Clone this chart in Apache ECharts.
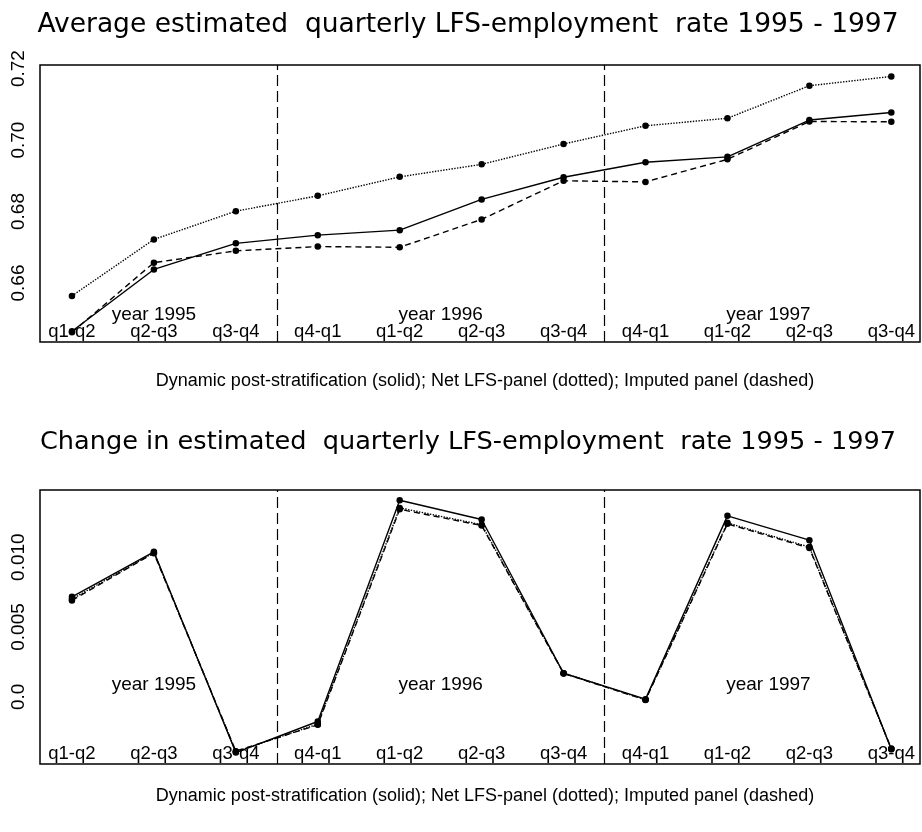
<!DOCTYPE html>
<html>
<head>
<meta charset="utf-8">
<script src="https://cdn.jsdelivr.net/npm/echarts@6/dist/echarts.min.js"></script>
<style>
  html, body { margin: 0; background: #fff; }
  #main { width: 922px; height: 832px; }
</style>
</head>
<body>
<div id="main"></div>
<script>
var quarters = ['q1-q2', 'q2-q3', 'q3-q4', 'q4-q1', 'q1-q2', 'q2-q3', 'q3-q4', 'q4-q1', 'q1-q2', 'q2-q3', 'q3-q4'];
var years = ['year 1995', 'year 1996', 'year 1997'];
var yearPos = [1, 4.5, 8.5];
var yearBreaks = [2.5, 6.5];

// average employment rate
var rateSolid = [0.6465, 0.6638, 0.6711, 0.6734, 0.6748, 0.6834, 0.6896, 0.6938, 0.6953, 0.7056, 0.7077];
var rateDotted = [0.6564, 0.6722, 0.6801, 0.6844, 0.6897, 0.6932, 0.6989, 0.7040, 0.7061, 0.7152, 0.7178];
var rateDashed = [0.6462, 0.6657, 0.6690, 0.6702, 0.6700, 0.6778, 0.6886, 0.6883, 0.6946, 0.7052, 0.7051];
var rateTicks = [0.66, 0.68, 0.70, 0.72];

// change in rate
var chgSolid = [0.00716, 0.01038, -0.00398, -0.00176, 0.01407, 0.01269, 0.00169, -0.00016, 0.01295, 0.01121, -0.00374];
var chgDotted = [0.00700, 0.01032, -0.00392, -0.00195, 0.01352, 0.01232, 0.00170, -0.00020, 0.01245, 0.01072, -0.00372];
var chgDashed = [0.00690, 0.01028, -0.00388, -0.00200, 0.01342, 0.01226, 0.00168, -0.00022, 0.01238, 0.01065, -0.00370];
var chgTicks = [0, 0.005, 0.010];

var caption = 'Dynamic post-stratification (solid); Net LFS-panel (dotted); Imputed panel (dashed)';
var font = 'Liberation Sans';

function pts(arr) {
  return arr.map(function (v, i) { return [i, v]; });
}

function lineSeries(g, arr, type) {
  return {
    type: 'line',
    xAxisIndex: g,
    yAxisIndex: g,
    data: pts(arr),
    symbol: 'circle',
    symbolSize: 6.5,
    itemStyle: { color: '#000' },
    lineStyle: { color: '#000', width: 1.4, type: type },
    animation: false,
    z: 3
  };
}

function yearSeries(g, yv) {
  return {
    type: 'scatter',
    xAxisIndex: g,
    yAxisIndex: g,
    symbolSize: 0,
    silent: true,
    itemStyle: { opacity: 1, color: '#000' },
    data: yearPos.map(function (x, i) { return { value: [x, yv], name: years[i] }; }),
    label: {
      show: true,
      position: 'inside',
      formatter: '{b}',
      color: '#000',
      fontFamily: font,
      fontSize: 19
    },
    markLine: {
      silent: true,
      symbol: 'none',
      label: { show: false },
      lineStyle: { color: '#000', type: [11, 5], width: 1.2, opacity: 1 },
      data: yearBreaks.map(function (x) { return { xAxis: x }; })
    },
    animation: false
  };
}

function xAxis(g) {
  return {
    type: 'value',
    gridIndex: g,
    min: -0.39,
    max: 10.35,
    splitLine: { show: false },
    axisLine: { show: false, onZero: false },
    axisTick: { show: false },
    axisLabel: {
      inside: true,
      margin: 1,
      customValues: quarters.map(function (q, i) { return i; }),
      formatter: function (v) { return quarters[Math.round(v)]; },
      color: '#000',
      fontFamily: font,
      fontSize: 18.5
    }
  };
}

function yAxis(g, min, max, ticks, fmt) {
  return {
    type: 'value',
    gridIndex: g,
    min: min,
    max: max,
    splitLine: { show: false },
    axisLine: { show: false, onZero: false },
    axisTick: { show: false },
    axisLabel: {
      rotate: 90,
      margin: 12,
      customValues: ticks,
      formatter: fmt,
      color: '#000',
      fontFamily: font,
      fontSize: 19
    }
  };
}

var chart = echarts.init(document.getElementById('main'));
chart.setOption({
  backgroundColor: '#fff',
  textStyle: { fontFamily: font },
  title: [
    { text: 'Average estimated  quarterly LFS-employment  rate 1995 - 1997', left: 463, textAlign: 'center', top: 7,
      textStyle: { fontSize: 26.5, fontWeight: 'normal', color: '#000', fontFamily: 'DejaVu Sans' } },
    { text: caption, left: 480, textAlign: 'center', top: 367,
      textStyle: { fontSize: 18, fontWeight: 'normal', color: '#000', fontFamily: font } },
    { text: 'Change in estimated  quarterly LFS-employment  rate 1995 - 1997', left: 463, textAlign: 'center', top: 424,
      textStyle: { fontSize: 25.6, fontWeight: 'normal', color: '#000', fontFamily: 'DejaVu Sans' } },
    { text: caption, left: 480, textAlign: 'center', top: 782,
      textStyle: { fontSize: 18, fontWeight: 'normal', color: '#000', fontFamily: font } }
  ],
  grid: [
    { left: 40, right: 2, top: 65, height: 277, show: true, borderColor: '#000', borderWidth: 1.5 },
    { left: 40, right: 2, top: 490, height: 274, show: true, borderColor: '#000', borderWidth: 1.5 }
  ],
  xAxis: [xAxis(0), xAxis(1)],
  yAxis: [
    yAxis(0, 0.6435, 0.721, rateTicks, function (v) { return v.toFixed(2); }),
    yAxis(1, -0.0048, 0.0148, chgTicks, function (v) { return v === 0 ? '0.0' : v.toFixed(3); })
  ],
  series: [
    lineSeries(0, rateSolid, 'solid'),
    lineSeries(0, rateDotted, 'dotted'),
    lineSeries(0, rateDashed, [6, 4]),
    yearSeries(0, 0.6511),
    lineSeries(1, chgSolid, 'solid'),
    lineSeries(1, chgDotted, 'dotted'),
    lineSeries(1, chgDashed, [6, 4]),
    yearSeries(1, 0.00086)
  ]
});
</script>
</body>
</html>
